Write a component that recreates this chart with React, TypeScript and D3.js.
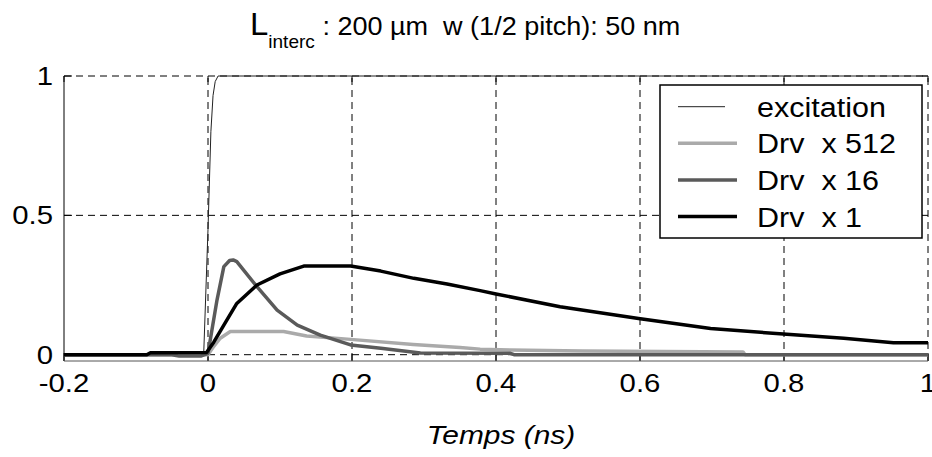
import React from "react";
import * as d3 from "d3";

const xTicks = [-0.2, 0, 0.2, 0.4, 0.6, 0.8, 1];
const xTickLabels = ["-0.2", "0", "0.2", "0.4", "0.6", "0.8", "1"];
const yTicks = [0, 0.5, 1];
const yTickLabels = ["0", "0.5", "1"];

const excT = [-0.2, -0.006, 0.0, 0.004, 0.007, 0.010, 0.014, 1.0];
const excV = [0, 0, 0.45, 0.8, 0.93, 0.98, 1, 1];

const d512T = [-0.2, -0.08, 0, 0.008, 0.017, 0.031, 0.105, 0.137, 0.198, 0.285, 0.35, 0.378, 0.42, 0.52, 0.743, 0.746, 1.0];
const d512V = [0, 0, 0, 0.03, 0.059, 0.083, 0.083, 0.067, 0.055, 0.037, 0.026, 0.02, 0.017, 0.013, 0.01, 0, 0];

const d16T = [-0.2, -0.05, -0.04, -0.01, 0.0, 0.0125, 0.022, 0.03, 0.035, 0.04, 0.068, 0.096, 0.124, 0.156, 0.198, 0.24, 0.295, 0.42, 0.425, 1.0];
const d16V = [0, 0, -0.005, -0.005, 0.005, 0.196, 0.316, 0.338, 0.34, 0.334, 0.244, 0.16, 0.106, 0.07, 0.035, 0.023, 0.006, 0.005, 0, 0];

const d1T = [-0.2, -0.085, -0.08, -0.002, 0.008, 0.022, 0.04, 0.068, 0.1, 0.133, 0.198, 0.24, 0.286, 0.332, 0.378, 0.4, 0.489, 0.598, 0.698, 0.799, 0.883, 0.952, 1.0];
const d1V = [0, 0, 0.007, 0.008, 0.045, 0.106, 0.184, 0.25, 0.29, 0.318, 0.318, 0.3, 0.274, 0.254, 0.23, 0.218, 0.172, 0.13, 0.094, 0.074, 0.059, 0.043, 0.043];

const legendLabels = ["excitation", "Drv  x 512", "Drv  x 16", "Drv  x 1"];

const FONT = "'Liberation Sans', Arial, Helvetica, sans-serif";
const SX = 1.15;

const W = 932, H = 457;
const x = d3.scaleLinear().domain([-0.2, 1]).range([64, 928]);
const y = d3.scaleLinear().domain([-0.0226, 1]).range([361, 76]);

function zip(t: number[], v: number[]): [number, number][] {
  return t.map((tt, i) => [tt, v[i]]);
}
const line = d3.line<[number, number]>().x(d => x(d[0])).y(d => y(d[1]));

const series = [
  { data: zip(excT, excV), color: "#222", width: 1, legendLen: 47 },
  { data: zip(d512T, d512V), color: "#aaaaaa", width: 3.5, legendLen: 59 },
  { data: zip(d16T, d16V), color: "#5a5a5a", width: 3.5, legendLen: 59 },
  { data: zip(d1T, d1V), color: "#000", width: 3.5, legendLen: 59 },
];

function T(props: { x: number; y: number; size: number; anchor?: string; italic?: boolean; sx?: number; children: React.ReactNode }) {
  const s = props.sx ?? SX;
  return (
    <text
      transform={`translate(${props.x},${props.y}) scale(${s},1)`}
      fontSize={props.size}
      fontFamily={FONT}
      fontStyle={props.italic ? "italic" : "normal"}
      textAnchor={props.anchor ?? "start"}
      style={{ whiteSpace: "pre" }}
      fill="#000"
    >
      {props.children}
    </text>
  );
}

export default function App() {
  const y0 = y.range()[0];
  const y1 = y(1);
  const xL = x(-0.2);
  const xR = x(1);
  const legendRows = [106.7, 143.3, 180, 216.5];
  return (
    <svg width={W} height={H} style={{ position: "absolute", left: 0, top: 0, background: "#fff" }}>
      <rect x={0} y={0} width={W} height={H} fill="#fff" />
      {/* grid */}
      {xTicks.filter(t => t > -0.2).map(t => (
        <line key={"gx" + t} x1={x(t)} x2={x(t)} y1={y0} y2={y1} stroke="#000" strokeWidth={1} strokeDasharray="7,5" />
      ))}
      {yTicks.map(t => (
        <line key={"gy" + t} x1={xL} x2={xR} y1={y(t)} y2={y(t)} stroke="#000" strokeWidth={1} strokeDasharray="7,5" />
      ))}
      {/* ticks */}
      {xTicks.map(t => (
        <g key={"tx" + t}>
          <line x1={x(t)} x2={x(t)} y1={y0} y2={y0 - 8} stroke="#000" />
          <line x1={x(t)} x2={x(t)} y1={y1} y2={y1 + 6} stroke="#000" />
        </g>
      ))}
      {yTicks.map(t => (
        <g key={"ty" + t}>
          <line x1={xL} x2={xL + 8} y1={y(t)} y2={y(t)} stroke="#000" />
          <line x1={xR} x2={xR - 6} y1={y(t)} y2={y(t)} stroke="#000" />
        </g>
      ))}
      {/* axes */}
      <line x1={xL} x2={xL} y1={y1} y2={y0} stroke="#000" strokeWidth={1} />
      <line x1={xL} x2={xR} y1={y0} y2={y0} stroke="#555" strokeWidth={1} />
      {/* series */}
      {series.map((s, i) => (
        <path key={"s" + i} d={line(s.data) || ""} fill="none" stroke={s.color} strokeWidth={s.width} strokeLinejoin="round" />
      ))}
      {/* tick labels */}
      {xTicks.map((t, i) => (
        <T key={"lx" + t} x={x(t)} y={392} size={25.5} anchor="middle">{xTickLabels[i]}</T>
      ))}
      {yTicks.map((t, i) => (
        <T key={"ly" + t} x={53} y={y(t) + 9} size={25.5} anchor="end">{yTickLabels[i]}</T>
      ))}
      {/* legend */}
      <rect x={660} y={85} width={262} height={153} fill="#fff" stroke="#000" strokeWidth={1.5} />
      {series.map((s, i) => (
        <g key={"lg" + i}>
          <line x1={678} x2={678 + s.legendLen} y1={legendRows[i]} y2={legendRows[i]} stroke={s.color} strokeWidth={s.width} />
          <T x={757} y={legendRows[i] + 10} size={27} sx={1.13}>{legendLabels[i]}</T>
        </g>
      ))}
      {/* title */}
      <text transform={`translate(250,35) scale(1.06,1)`} fontFamily={FONT} fill="#000" style={{ whiteSpace: "pre" }}>
        <tspan fontSize={31}>L</tspan>
        <tspan fontSize={18} dy={13}>interc</tspan>
        <tspan fontSize={25.5} dy={-13}>{" : 200 \u00b5m  w (1/2 pitch): 50 nm"}</tspan>
      </text>
      {/* x label */}
      <T x={501} y={444} size={26} anchor="middle" italic>Temps (ns)</T>
    </svg>
  );
}
